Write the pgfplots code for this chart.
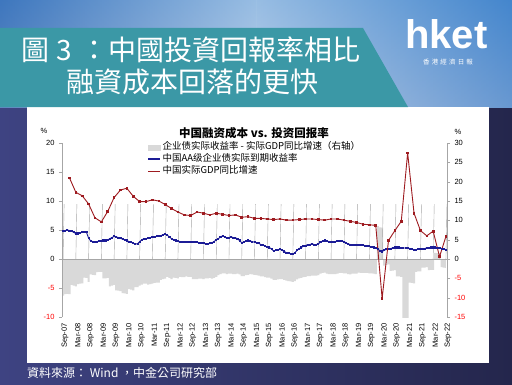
\documentclass[border=0pt]{standalone}
\usepackage{pgfplots}
\usepackage{pgfplotstable}
\pgfplotsset{compat=1.18}
\usepackage{fontspec}
\setmainfont{Liberation Sans}
\newfontfamily\cjksc{Noto Sans CJK SC}
\newfontfamily\cjktc{Noto Sans CJK TC}
\definecolor{tealb}{HTML}{3B98A6}
\definecolor{navy}{HTML}{2A2D5C}
\definecolor{bluser}{HTML}{1C1C96}
\definecolor{redser}{HTML}{9E1B20}
\definecolor{grayar}{HTML}{D9D9D9}
\definecolor{axgray}{HTML}{A6A6A6}

\pgfplotstableread{
m v
0 4.8
1 4.9
2 5.0
3 4.9
4 4.8
5 4.6
6 4.4
7 4.4
8 4.5
9 4.6
10 4.7
11 4.6
12 3.6
13 3.1
14 3.0
15 2.9
16 3.0
17 3.1
18 3.1
19 3.2
20 3.2
21 3.3
22 3.5
23 3.7
24 3.9
25 3.8
26 3.7
27 3.6
28 3.4
29 3.3
30 3.2
31 3.0
32 2.9
33 2.7
34 2.6
35 2.6
36 3.0
37 3.3
38 3.5
39 3.5
40 3.6
41 3.7
42 3.8
43 3.8
44 3.9
45 3.9
46 4.0
47 4.2
48 4.3
49 4.1
50 3.8
51 3.5
52 3.3
53 3.2
54 3.1
55 3.0
56 2.9
57 2.9
58 3.0
59 2.9
60 2.9
61 2.9
62 2.9
63 2.9
64 2.8
65 2.8
66 2.7
67 2.6
68 2.6
69 2.7
70 2.8
71 3.0
72 3.3
73 3.5
74 3.8
75 4.0
76 3.8
77 3.6
78 3.7
79 3.8
80 3.7
81 3.7
82 3.4
83 3.2
84 2.8
85 2.9
86 3.1
87 3.2
88 3.1
89 3.0
90 2.9
91 2.8
92 2.7
93 2.5
94 2.4
95 2.2
96 2.1
97 2.0
98 1.7
99 1.4
100 1.5
101 1.6
102 1.7
103 1.5
104 1.3
105 1.1
106 1.0
107 0.9
108 0.8
109 1.1
110 1.5
111 1.8
112 2.0
113 2.2
114 2.3
115 2.5
116 2.5
117 2.6
118 2.5
119 2.5
120 2.6
121 2.9
122 3.1
123 3.2
124 3.1
125 3.0
126 3.0
127 3.0
128 3.0
129 3.1
130 3.1
131 3.1
132 3.0
133 2.8
134 2.6
135 2.5
136 2.5
137 2.5
138 2.5
139 2.5
140 2.4
141 2.4
142 2.3
143 2.3
144 2.2
145 2.1
146 2.0
147 1.9
148 1.7
149 1.4
150 1.3
151 1.5
152 1.7
153 1.8
154 1.8
155 1.9
156 2.0
157 2.0
158 2.0
159 1.9
160 1.9
161 1.9
162 1.9
163 1.8
164 1.7
165 1.6
166 1.6
167 1.7
168 1.7
169 1.8
170 1.8
171 1.9
172 1.9
173 2.0
174 2.0
175 2.0
176 1.9
177 1.9
178 1.8
179 1.7
180 1.6
}\bluedata

\pgfplotstableread{
m v
3 14.0
6 11.5
9 10.9
12 9.5
15 7.1
18 6.4
21 8.2
24 10.6
27 11.9
30 12.2
33 10.8
36 9.9
39 9.9
42 10.2
45 10.0
48 9.4
51 8.7
54 8.1
57 7.6
60 7.5
63 8.1
66 7.9
69 7.6
72 7.9
75 7.7
78 7.5
81 7.6
84 7.2
87 7.3
90 7.0
93 7.0
96 6.9
99 6.8
102 6.9
105 6.7
108 6.7
111 6.8
114 6.9
117 6.9
120 6.8
123 6.7
126 6.9
129 6.9
132 6.7
135 6.5
138 6.3
141 6.0
144 5.9
147 5.8
150 -6.8
153 3.2
156 4.9
159 6.5
162 18.3
165 7.9
168 4.9
171 4.0
174 4.8
177 0.4
180 3.9
}\reddata

\pgfplotstableread{
m v
0 -9.5
1 -9.1
2 -9.0
3 -9.1
4 -6.7
5 -6.9
6 -7.1
7 -6.5
8 -6.4
9 -6.3
10 -4.8
11 -4.9
12 -5.9
13 -4.0
14 -4.1
15 -4.2
16 -3.4
17 -3.3
18 -3.3
19 -5.0
20 -5.0
21 -4.9
22 -7.1
23 -6.9
24 -6.7
25 -8.1
26 -8.2
27 -8.3
28 -8.8
29 -8.9
30 -9.0
31 -7.8
32 -7.9
33 -8.1
34 -7.3
35 -7.3
36 -6.9
37 -6.6
38 -6.4
39 -6.4
40 -6.6
41 -6.5
42 -6.4
43 -6.2
44 -6.1
45 -6.1
46 -5.4
47 -5.2
48 -5.1
49 -4.6
50 -4.9
51 -5.2
52 -4.8
53 -4.9
54 -5.0
55 -4.6
56 -4.7
57 -4.7
58 -4.5
59 -4.6
60 -4.6
61 -5.2
62 -5.2
63 -5.2
64 -5.1
65 -5.1
66 -5.2
67 -5.0
68 -5.0
69 -4.9
70 -5.1
71 -4.9
72 -4.6
73 -4.2
74 -3.9
75 -3.7
76 -3.7
77 -3.9
78 -3.8
79 -3.8
80 -3.9
81 -3.9
82 -3.8
83 -4.0
84 -4.4
85 -4.4
86 -4.2
87 -4.1
88 -3.9
89 -4.0
90 -4.1
91 -4.2
92 -4.3
93 -4.5
94 -4.5
95 -4.7
96 -4.8
97 -4.8
98 -5.1
99 -5.4
100 -5.4
101 -5.3
102 -5.2
103 -5.2
104 -5.4
105 -5.6
106 -5.7
107 -5.8
108 -5.9
109 -5.7
110 -5.3
111 -5.0
112 -4.9
113 -4.7
114 -4.6
115 -4.4
116 -4.4
117 -4.3
118 -4.3
119 -4.3
120 -4.2
121 -3.8
122 -3.6
123 -3.5
124 -3.8
125 -3.9
126 -3.9
127 -3.9
128 -3.9
129 -3.8
130 -3.6
131 -3.6
132 -3.7
133 -3.7
134 -3.9
135 -4.0
136 -3.8
137 -3.8
138 -3.8
139 -3.5
140 -3.6
141 -3.6
142 -3.6
143 -3.6
144 -3.7
145 -3.7
146 -3.8
147 -3.9
148 8.5
149 8.2
150 8.1
151 -1.7
152 -1.5
153 -1.4
154 -3.1
155 -3.0
156 -2.9
157 -4.5
158 -4.5
159 -4.6
160 -16.4
161 -16.4
162 -16.4
163 -6.1
164 -6.2
165 -6.3
166 -3.3
167 -3.2
168 -3.2
169 -2.2
170 -2.2
171 -2.1
172 -2.9
173 -2.8
174 -2.8
175 1.6
176 1.5
177 1.5
178 -2.1
179 -2.2
180 -2.3
}\graydata

\begin{document}
\begin{tikzpicture}
\useasboundingbox (0pt,0pt) rectangle (512pt,384pt);
% backgrounds
\shade[left color={rgb,255:red,62;green,67;blue,130}, right color={rgb,255:red,36;green,38;blue,76}] (0pt,0pt) rectangle (512pt,277pt);
\shade[top color={rgb,255:red,80;green,140;blue,205}, bottom color={rgb,255:red,170;green,185;blue,215}] (0pt,277pt) rectangle (512pt,384pt);
\shade[left color={rgb,255:red,50;green,105;blue,180}, right color={rgb,255:red,200;green,222;blue,242}, opacity=0.6] (0pt,277pt) rectangle (256pt,384pt);
\shade[left color={rgb,255:red,200;green,222;blue,242}, right color={rgb,255:red,60;green,130;blue,205}, opacity=0.6] (256pt,277pt) rectangle (512pt,384pt);
\fill[white] (27pt,21pt) rectangle (489pt,277pt);
% banner
\fill[tealb] (0pt,277pt) -- (0pt,356pt) -- (363pt,356pt) -- (408pt,277pt) -- cycle;
\node[white, font=\cjktc\fontsize{28}{30}\selectfont, anchor=west, inner sep=0pt] at (21pt,334pt) {圖\hspace{7pt}3\hspace{9pt}：中國投資回報率相比};
\node[white, font=\cjktc\fontsize{28}{30}\selectfont, anchor=west, inner sep=0pt] at (66pt,302pt) {融資成本回落的更快};
% logo
\node[white, font=\bfseries\fontsize{40}{40}\selectfont, anchor=base west, inner sep=0pt] at (405pt,335pt) {hket};
\node[white, font=\cjktc\fontsize{6.5}{7}\selectfont, inner sep=0pt] at (448pt,322pt) {香\,\,港\,\,經\,\,濟\,\,日\,\,報};
% footer
\node[white, font=\cjktc\fontsize{12}{12}\selectfont, anchor=west, inner sep=0pt] at (27pt,11pt) {資料來源： Wind ，中金公司研究部};

% chart title & units
\node[font=\cjksc\bfseries\fontsize{11.5}{12}\selectfont, inner sep=0pt] at (254pt,251pt) {中国融资成本 vs. 投资回报率};
\node[font=\fontsize{7.5}{8}\selectfont, inner sep=0pt] at (44pt,253pt) {\%};
\node[font=\fontsize{7.5}{8}\selectfont, inner sep=0pt] at (458pt,252pt) {\%};

% right axis (gray area)
\begin{axis}[at={(62pt,67pt)}, anchor=south west, width=385pt, height=174pt, scale only axis,
  xmin=-0.5, xmax=180.5, ymin=-15, ymax=30,
  axis y line*=right, axis x line=none,
  ytick={-15,-10,-5,0,5,10,15,20,25,30},
  yticklabels={\textcolor{red}{-15},\textcolor{red}{-10},\textcolor{red}{-5},0,5,10,15,20,25,30},
  y axis line style={axgray}, ytick style={axgray}, tick align=outside, major tick length=3pt,
  yticklabel style={font=\fontsize{7.5}{8}\selectfont, anchor=west, xshift=1pt},
  clip=true]
\addplot[fill=grayar, draw=none, const plot mark mid] table[x=m,y=v] {\graydata} \closedcycle;
\end{axis}

% left axis (lines)
\begin{axis}[at={(62pt,67pt)}, anchor=south west, width=385pt, height=174pt, scale only axis,
  xmin=-0.5, xmax=180.5, ymin=-10, ymax=20,
  axis y line*=left, axis x line*=bottom, x axis line style={draw=none},
  xtick={0,6,...,180},
  xticklabels={Sep-07,Mar-08,Sep-08,Mar-09,Sep-09,Mar-10,Sep-10,Mar-11,Sep-11,Mar-12,Sep-12,Mar-13,Sep-13,Mar-14,Sep-14,Mar-15,Sep-15,Mar-16,Sep-16,Mar-17,Sep-17,Mar-18,Sep-18,Mar-19,Sep-19,Mar-20,Sep-20,Mar-21,Sep-21,Mar-22,Sep-22},
  major x tick style={draw=none},
  xticklabel style={rotate=90, anchor=east, font=\fontsize{7.5}{8}\selectfont, yshift=-2pt},
  ytick={-10,-5,0,5,10,15,20},
  yticklabels={\textcolor{red}{-10},\textcolor{red}{-5},0,5,10,15,20},
  y axis line style={axgray}, ytick style={axgray}, tick align=outside, major tick length=3pt,
  yticklabel style={font=\fontsize{7.5}{8}\selectfont, anchor=east, xshift=-1pt},
  legend style={draw=none, fill=none, at={(0.221,1.005)}, anchor=north west, inner sep=0pt,
    row sep=2pt, font=\cjksc\fontsize{9.5}{10}\selectfont,
    nodes={inner xsep=1.5pt, inner ysep=0pt, text height=7.5pt, text depth=2.5pt}},
  legend cell align=left]
\addlegendimage{legend image code/.code={\fill[grayar] (0pt,-2.5pt) rectangle (12pt,2.5pt);}}
\addlegendentry{企业债实际收益率 - 实际GDP同比增速（右轴）}
\draw[axgray] (axis cs:-0.5,0) -- (axis cs:180.5,0);
\pgfplotsinvokeforeach{0,6,...,180}{\draw[axgray] (axis cs:#1,0) -- ++(0,-3pt);}
\addplot[bluser, line width=0.9pt, mark=square*, mark size=0.55pt,
  legend image code/.code={\draw[bluser, line width=1.8pt] (0pt,0pt) -- (12pt,0pt);}] table[x=m,y=v] {\bluedata};
\addlegendentry{中国AA级企业债实际到期收益率}
\addplot[redser, line width=0.9pt, mark=square*, mark size=0.8pt,
  legend image code/.code={\draw[redser, line width=1.4pt] (0pt,0pt) -- (12pt,0pt);}] table[x=m,y=v] {\reddata};
\addlegendentry{中国实际GDP同比增速}
\end{axis}
\end{tikzpicture}
\end{document}
